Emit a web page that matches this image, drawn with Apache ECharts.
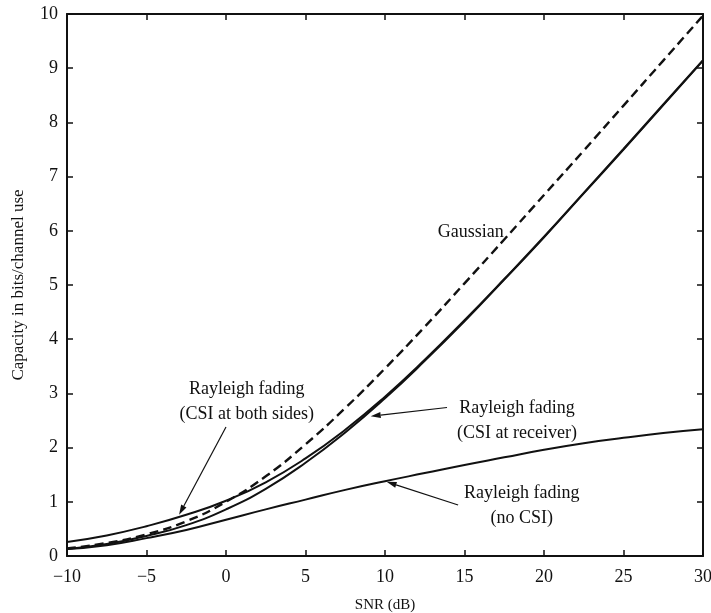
<!DOCTYPE html>
<html>
<head>
<meta charset="utf-8">
<script src="https://cdn.jsdelivr.net/npm/echarts@6/dist/echarts.min.js"></script>
<style>
  html, body { margin: 0; padding: 0; background: #fff; }
  #chart { width: 711px; height: 613px; }
</style>
</head>
<body>
<div id="chart"></div>
<script>
// SNR in dB
const snr = [-10, -7.5, -5, -2.5, 0, 2.5, 5, 7.5, 10, 12.5, 15, 17.5, 20, 22.5, 25, 27.5, 30];

// capacity (bits/channel use)
const gaussian = [0.14, 0.24, 0.40, 0.64, 1.00, 1.47, 2.06, 2.73, 3.46, 4.23, 5.03, 5.84, 6.66, 7.48, 8.31, 9.14, 9.97];
const csiReceiver = [0.13, 0.22, 0.37, 0.57, 0.86, 1.24, 1.72, 2.28, 2.91, 3.60, 4.33, 5.10, 5.88, 6.69, 7.50, 8.32, 9.14];
const csiBoth = [0.26, 0.38, 0.55, 0.76, 1.02, 1.36, 1.80, 2.33, 2.94, 3.62, 4.35, 5.11, 5.89, 6.70, 7.51, 8.33, 9.15];
const noCsi = [0.13, 0.20, 0.33, 0.48, 0.67, 0.86, 1.04, 1.22, 1.38, 1.53, 1.68, 1.82, 1.96, 2.08, 2.18, 2.27, 2.34];

// annotation anchors in data units
const labels = [
  { text: 'Gaussian', at: [15.4, 5.97] },
  { text: 'Rayleigh fading\n(CSI at both sides)', at: [1.3, 2.85] },
  { text: 'Rayleigh fading\n(CSI at receiver)', at: [18.3, 2.5] },
  { text: 'Rayleigh fading\n(no CSI)', at: [18.6, 0.93] }
];
const arrows = [
  { from: [0.0, 2.38], to: [-2.95, 0.76] },
  { from: [13.9, 2.74], to: [9.1, 2.58] },
  { from: [14.6, 0.94], to: [10.1, 1.37] }
];

const font = 'Liberation Serif, Times New Roman, serif';
const black = '#111';

function pairs(ys) {
  return snr.map((x, i) => [x, ys[i]]);
}

const chart = echarts.init(document.getElementById('chart'));

const axisCommon = {
  axisLine: { show: true, onZero: false, lineStyle: { color: black, width: 2 } },
  axisTick: { show: true, inside: true, length: 6, lineStyle: { color: black, width: 1.5 } },
  splitLine: { show: false }
};

function line(name, ys, dashed) {
  return {
    name: name,
    type: 'line',
    data: pairs(ys),
    smooth: true,
    showSymbol: false,
    lineStyle: { color: black, width: dashed ? 2.4 : 2, type: dashed ? [9, 5] : 'solid' },
    z: dashed ? 3 : 2
  };
}

chart.setOption({
  animation: false,
  backgroundColor: '#fff',
  textStyle: { fontFamily: font },
  grid: { left: 67, right: 8, top: 14, bottom: 57, containLabel: false, outerBoundsMode: 'none' },
  xAxis: [
    Object.assign({
      type: 'value', min: -10, max: 30, interval: 5,
      name: 'SNR (dB)', nameLocation: 'middle', nameGap: 42,
      nameTextStyle: { fontFamily: font, fontSize: 15, color: black },
      axisLabel: { fontFamily: font, fontSize: 18, color: black, margin: 12,
        formatter: v => (v < 0 ? '\u2212' + (-v) : String(v)) }
    }, axisCommon),
    Object.assign({
      type: 'value', min: -10, max: 30, interval: 5, position: 'top',
      axisLabel: { show: false }
    }, axisCommon)
  ],
  yAxis: [
    Object.assign({
      type: 'value', min: 0, max: 10, interval: 1,
      name: 'Capacity in bits/channel use', nameLocation: 'middle', nameGap: 40,
      nameTextStyle: { fontFamily: font, fontSize: 17, color: black },
      axisLabel: { fontFamily: font, fontSize: 18, color: black, margin: 9 }
    }, axisCommon),
    Object.assign({
      type: 'value', min: 0, max: 10, interval: 1, position: 'right',
      axisLabel: { show: false }
    }, axisCommon)
  ],
  series: [
    line('Gaussian', gaussian, true),
    line('Rayleigh fading (CSI at receiver)', csiReceiver, false),
    line('Rayleigh fading (CSI at both sides)', csiBoth, false),
    line('Rayleigh fading (no CSI)', noCsi, false)
  ]
});

// annotations placed through the axes
const graphics = [];
labels.forEach(l => {
  const p = chart.convertToPixel({ gridIndex: 0 }, l.at);
  graphics.push({
    type: 'text', x: p[0], y: p[1], z: 10,
    style: { text: l.text, fill: black, font: '18px ' + font, align: 'center', verticalAlign: 'middle', lineHeight: 25 }
  });
});
arrows.forEach(a => {
  const s = chart.convertToPixel({ gridIndex: 0 }, a.from);
  const t = chart.convertToPixel({ gridIndex: 0 }, a.to);
  const ang = Math.atan2(t[1] - s[1], t[0] - s[0]);
  const len = 10, half = 3;
  const bx = t[0] - len * Math.cos(ang), by = t[1] - len * Math.sin(ang);
  graphics.push({
    type: 'line', z: 10,
    shape: { x1: s[0], y1: s[1], x2: bx, y2: by },
    style: { stroke: black, lineWidth: 1.2 }
  });
  graphics.push({
    type: 'polygon', z: 10,
    shape: { points: [
      [t[0], t[1]],
      [bx - half * Math.sin(ang), by + half * Math.cos(ang)],
      [bx + half * Math.sin(ang), by - half * Math.cos(ang)]
    ] },
    style: { fill: black }
  });
});
chart.setOption({ graphic: graphics });
</script>
</body>
</html>
